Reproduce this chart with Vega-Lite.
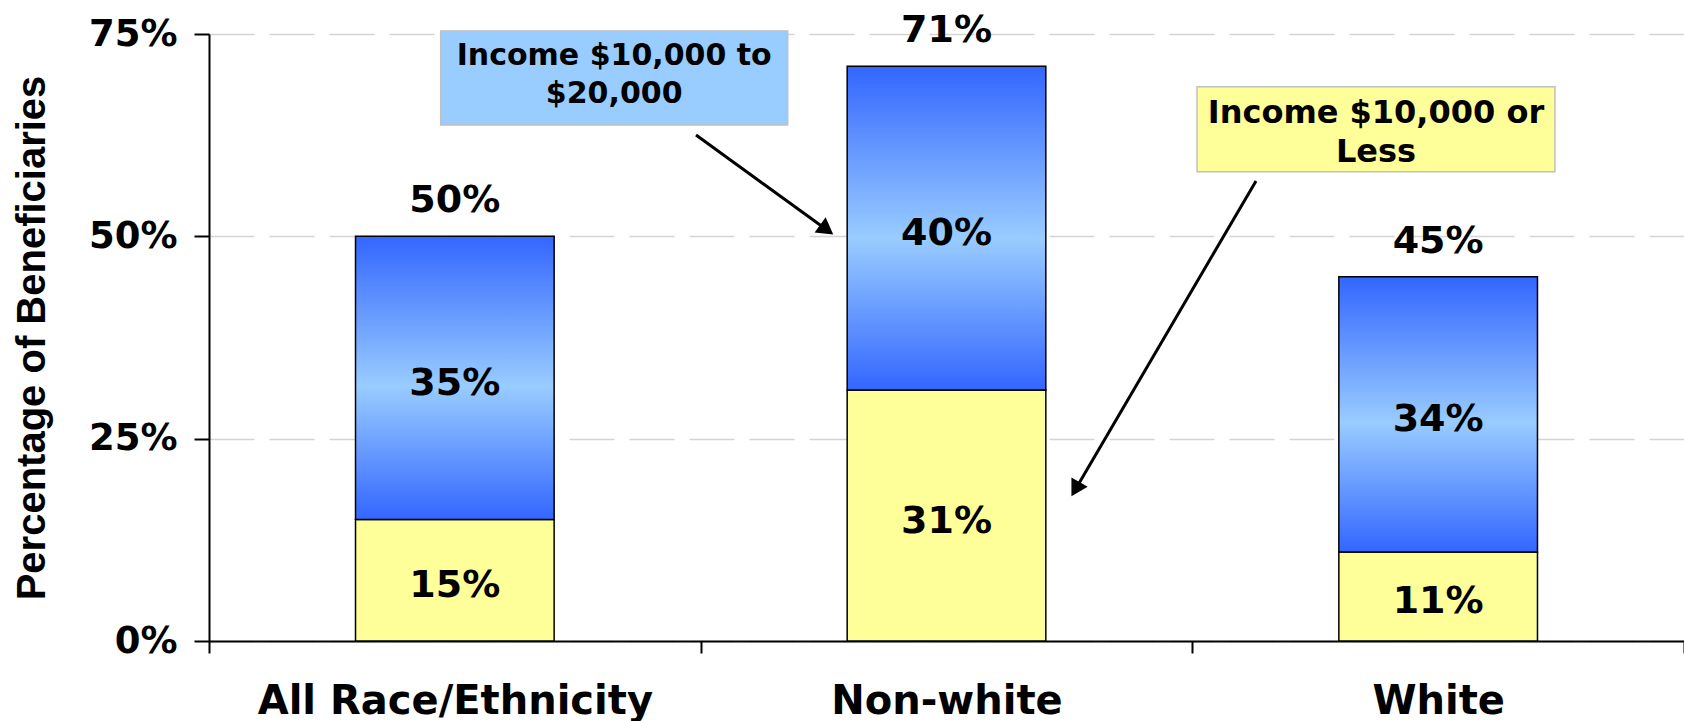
{
  "$schema": "https://vega.github.io/schema/vega-lite/v6.json",
  "width": 1475,
  "height": 607,
  "autosize": {"type": "none"},
  "padding": {"left": 209, "top": 34, "right": 0, "bottom": 80},
  "background": "white",
  "config": {"view": {"stroke": null}},
  "datasets": {
    "bars": [
      {"category": "All Race/Ethnicity", "seg": "Income $10,000 or Less", "value": 0.15},
      {"category": "All Race/Ethnicity", "seg": "Income $10,000 to $20,000", "value": 0.35},
      {"category": "Non-white", "seg": "Income $10,000 or Less", "value": 0.31},
      {"category": "Non-white", "seg": "Income $10,000 to $20,000", "value": 0.40},
      {"category": "White", "seg": "Income $10,000 or Less", "value": 0.11},
      {"category": "White", "seg": "Income $10,000 to $20,000", "value": 0.34}
    ],
    "boxes": [
      {"box": "mid", "x0": 0.4712, "x1": 1.1770, "y0": 0.6376, "y1": 0.7537},
      {"box": "low", "x0": 2.0095, "x1": 2.7376, "y0": 0.5799, "y1": 0.6849}
    ],
    "notes": [
      {"box": "mid", "line": "Income $10,000 to", "x": 0.8241, "y": 0.7117},
      {"box": "mid", "line": "$20,000", "x": 0.8241, "y": 0.6647},
      {"box": "low", "line": "Income $10,000 or", "x": 2.3735, "y": 0.6404},
      {"box": "low", "line": "Less", "x": 2.3735, "y": 0.5922}
    ],
    "arrows": [
      {"arrow": "mid", "x0": 0.9905, "y0": 0.6252, "x1": 1.2563, "y1": 0.5082},
      {"arrow": "low", "x0": 2.1295, "y0": 0.5684, "x1": 1.7624, "y1": 0.1876}
    ]
  },
  "resolve": {"scale": {"x": "independent"}},
  "layer": [
    {
      "data": {"name": "bars"},
      "encoding": {
        "x": {
          "field": "category",
          "type": "nominal",
          "sort": ["All Race/Ethnicity", "Non-white", "White"],
          "scale": {"paddingInner": 0, "paddingOuter": 0},
          "axis": {
            "title": null,
            "labelAngle": 0,
            "labelFont": "DejaVu Sans",
            "labelFontWeight": "bold",
            "labelFontSize": 40,
            "labelColor": "black",
            "labelPadding": 28,
            "labelLimit": 0,
            "labelOverlap": false,
            "tickBand": "extent",
            "tickSize": 12,
            "tickWidth": 2,
            "tickColor": "black",
            "domainColor": "black",
            "domainWidth": 2,
            "grid": false
          }
        }
      },
      "layer": [
        {
          "mark": {"type": "bar", "width": {"band": 0.404}, "stroke": "black", "strokeWidth": 1.5},
          "encoding": {
            "y": {
              "field": "value",
              "type": "quantitative",
              "stack": "zero",
              "scale": {"domain": [0, 0.75], "nice": false},
              "axis": {
                "title": "Percentage of Beneficiaries",
                "titleFont": "Liberation Sans",
                "titleFontSize": 40,
                "titleFontWeight": "bold",
                "titleColor": "black",
                "titlePadding": 36,
                "values": [0, 0.25, 0.5, 0.75],
                "format": ".0%",
                "labelFont": "DejaVu Sans",
                "labelFontWeight": "bold",
                "labelFontSize": 37,
                "labelColor": "black",
                "labelPadding": 17,
                "tickSize": 15,
                "tickWidth": 2,
                "tickColor": "black",
                "domainColor": "black",
                "domainWidth": 2,
                "grid": true,
                "gridColor": "#d4d4d4",
                "gridWidth": 1.5,
                "gridDash": [45, 15]
              }
            },
            "detail": {"field": "seg"},
            "order": {"field": "seg", "sort": "ascending"},
            "color": {
              "condition": {
                "test": "datum.seg === 'Income $10,000 to $20,000'",
                "value": {
                  "gradient": "linear",
                  "x1": 0, "y1": 0, "x2": 0, "y2": 1,
                  "stops": [
                    {"offset": 0, "color": "#3366ff"},
                    {"offset": 0.53, "color": "#99ccff"},
                    {"offset": 1, "color": "#3366ff"}
                  ]
                }
              },
              "value": "#ffff99"
            }
          }
        },
        {
          "transform": [
            {"stack": "value", "groupby": ["category"], "sort": [{"field": "seg", "order": "ascending"}], "as": ["v0", "v1"]},
            {"fold": ["v0", "v1"], "as": ["edge", "pos"]}
          ],
          "mark": {"type": "text", "font": "DejaVu Sans", "fontWeight": "bold", "fontSize": 38, "color": "black", "baseline": "middle", "dy": 6},
          "encoding": {
            "y": {"aggregate": "mean", "field": "pos", "type": "quantitative"},
            "text": {"field": "value", "type": "quantitative", "format": ".0%"},
            "detail": {"field": "seg"}
          }
        },
        {
          "mark": {"type": "text", "font": "DejaVu Sans", "fontWeight": "bold", "fontSize": 38, "color": "black", "baseline": "middle", "dy": -35},
          "encoding": {
            "y": {"aggregate": "sum", "field": "value", "type": "quantitative"},
            "text": {"aggregate": "sum", "field": "value", "type": "quantitative", "format": ".0%"}
          }
        }
      ]
    },
    {
      "layer": [
        {
          "data": {"name": "boxes"},
          "mark": {"type": "rect", "stroke": "#c0c0c0", "strokeWidth": 1.5, "clip": false},
          "encoding": {
            "x": {"field": "x0", "type": "quantitative", "scale": {"domain": [0, 3], "nice": false, "zero": false}, "axis": null},
            "x2": {"field": "x1"},
            "y": {"field": "y0", "type": "quantitative"},
            "y2": {"field": "y1"},
            "color": {"condition": {"test": "datum.box === 'mid'", "value": "#99ccff"}, "value": "#ffff99"}
          }
        },
        {
          "data": {"name": "notes"},
          "mark": {"type": "text", "font": "DejaVu Sans", "fontWeight": "bold", "color": "black", "baseline": "alphabetic", "align": "center"},
          "encoding": {
            "x": {"field": "x", "type": "quantitative", "axis": null},
            "y": {"field": "y", "type": "quantitative"},
            "text": {"field": "line"},
            "size": {"condition": {"test": "datum.box === 'mid'", "value": 30}, "value": 32}
          }
        },
        {
          "data": {"name": "arrows"},
          "mark": {"type": "rule", "color": "black", "strokeWidth": 3},
          "encoding": {
            "x": {"field": "x0", "type": "quantitative", "axis": null},
            "y": {"field": "y0", "type": "quantitative"},
            "x2": {"field": "x1"},
            "y2": {"field": "y1"}
          }
        },
        {
          "data": {"name": "arrows"},
          "mark": {"type": "point", "shape": "triangle-up", "filled": true, "color": "black", "size": 350, "opacity": 1},
          "encoding": {
            "x": {"field": "x1", "type": "quantitative", "axis": null},
            "y": {"field": "y1", "type": "quantitative"},
            "angle": {"condition": {"test": "datum.arrow === 'mid'", "value": 126}, "value": 210}
          }
        }
      ]
    }
  ]
}
